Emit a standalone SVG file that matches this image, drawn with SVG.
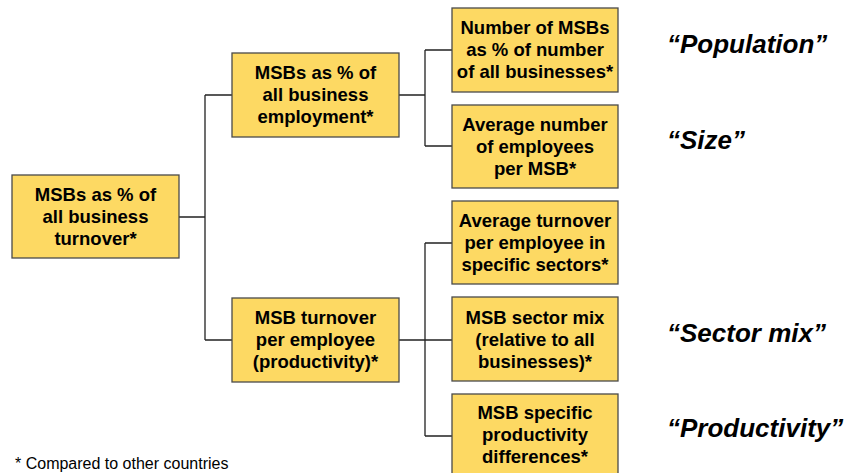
<svg xmlns="http://www.w3.org/2000/svg" width="848" height="473" viewBox="0 0 848 473">
<style>
.box{fill:#FDD963;stroke:#4a4a4a;stroke-width:1.3}
.t{font-family:"Liberation Sans",Arial,sans-serif;font-weight:bold;font-size:18.5px;fill:#000;text-anchor:middle}
.lbl{font-family:"Liberation Sans",Arial,sans-serif;font-weight:bold;font-style:italic;font-size:26px;fill:#000}
.foot{font-family:"Liberation Sans",Arial,sans-serif;font-size:16px;fill:#000}
.c{fill:none;stroke:#222;stroke-width:1.3}
</style>
<rect width="848" height="473" fill="#fff"/>
<g id="connectors">
<path class="c" d="M179,217H205M205,95V340M205,95H232M205,340H232"/>
<path class="c" d="M399,95H425M425,50V146M425,50H452M425,146H452"/>
<path class="c" d="M399,340H452M425,243V436M425,243H452M425,436H452"/>
</g>
<g id="root">
<rect class="box" x="12" y="175" width="167" height="83"/>
<text class="t" x="95.5" y="201">MSBs as % of</text>
<text class="t" x="95.5" y="223">all business</text>
<text class="t" x="95.5" y="245">turnover*</text>
</g>
<g id="employment">
<rect class="box" x="232" y="53" width="167" height="84"/>
<text class="t" x="315.5" y="79">MSBs as % of</text>
<text class="t" x="315.5" y="101">all business</text>
<text class="t" x="315.5" y="123">employment*</text>
</g>
<g id="productivity">
<rect class="box" x="232" y="298" width="167" height="84"/>
<text class="t" x="315.5" y="324">MSB turnover</text>
<text class="t" x="315.5" y="346">per employee</text>
<text class="t" x="315.5" y="368">(productivity)*</text>
</g>
<g id="number">
<rect class="box" x="452" y="8" width="166" height="84"/>
<text class="t" x="535" y="34">Number of MSBs</text>
<text class="t" x="535" y="56">as % of number</text>
<text class="t" x="535" y="78">of all businesses*</text>
</g>
<g id="average">
<rect class="box" x="452" y="105" width="166" height="83"/>
<text class="t" x="535" y="131">Average number</text>
<text class="t" x="535" y="153">of employees</text>
<text class="t" x="535" y="175">per MSB*</text>
</g>
<g id="turnover">
<rect class="box" x="452" y="201" width="166" height="83"/>
<text class="t" x="535" y="227">Average turnover</text>
<text class="t" x="535" y="249">per employee in</text>
<text class="t" x="535" y="271">specific sectors*</text>
</g>
<g id="mix">
<rect class="box" x="452" y="297" width="166" height="84"/>
<text class="t" x="535" y="324">MSB sector mix</text>
<text class="t" x="535" y="346">(relative to all</text>
<text class="t" x="535" y="368">businesses)*</text>
</g>
<g id="specific">
<rect class="box" x="452" y="394" width="166" height="84"/>
<text class="t" x="535" y="419">MSB specific</text>
<text class="t" x="535" y="441">productivity</text>
<text class="t" x="535" y="463">differences*</text>
</g>
<g id="labels">
<text class="lbl" x="667" y="53">“Population”</text>
<text class="lbl" x="667" y="149">“Size”</text>
<text class="lbl" x="667" y="342">“Sector mix”</text>
<text class="lbl" x="667" y="437">“Productivity”</text>
</g>
<text class="foot" x="15" y="469">* Compared to other countries</text>
</svg>
